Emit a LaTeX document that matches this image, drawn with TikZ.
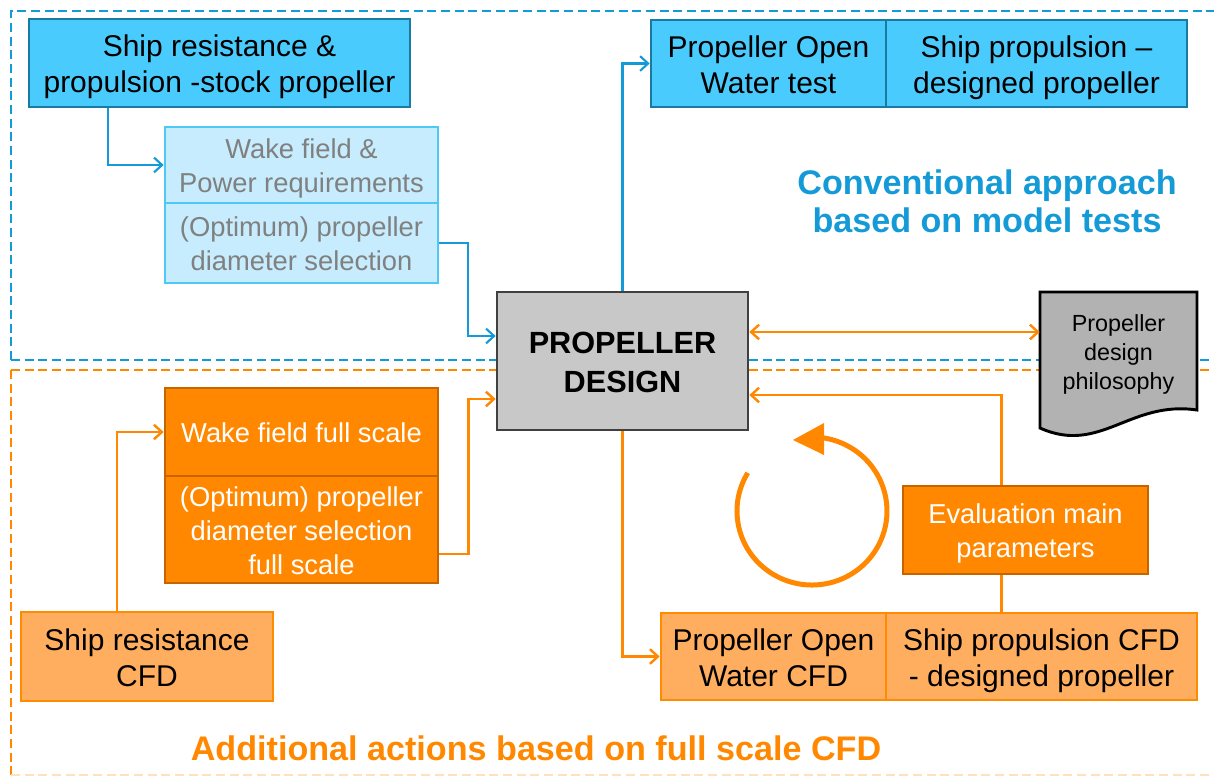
\documentclass[tikz,border=0pt]{standalone}
\usepackage{fontspec}
\setmainfont{Liberation Sans}
\usetikzlibrary{arrows.meta,calc}
\definecolor{bfill}{RGB}{74,203,253}
\definecolor{bdraw}{RGB}{26,122,162}
\definecolor{lbfill}{RGB}{198,236,253}
\definecolor{lbdraw}{RGB}{80,200,245}
\definecolor{bline}{RGB}{20,155,215}
\definecolor{oline}{RGB}{255,136,0}
\definecolor{ofill}{RGB}{255,136,0}
\definecolor{odraw}{RGB}{198,100,0}
\definecolor{lofill}{RGB}{255,174,96}
\definecolor{lodraw}{RGB}{255,140,0}
\definecolor{gfill}{RGB}{200,200,200}
\definecolor{gdraw}{RGB}{64,64,64}
\definecolor{docfill}{RGB}{178,178,178}
\definecolor{txtgray}{RGB}{128,128,128}
\newcommand\mystrut{\rule[-0.21em]{0pt}{1.2em}}
\begin{document}
\begin{tikzpicture}[x=0.75pt,y=-0.75pt,
  box/.style 2 args={rectangle, minimum width={#1*0.75pt}, minimum height={#2*0.75pt},
    inner sep=0pt, align=center, line width=2pt},
  bigtxt/.style={font=\fontsize{22.5}{27}\selectfont},
  midtxt/.style={font=\fontsize{20.5}{24.5}\selectfont},
  titletxt/.style={font=\fontsize{25.6}{28.5}\selectfont\bfseries},
  bluebox/.style={fill=bfill, draw=bdraw, bigtxt},
  lightbox/.style={fill=lbfill, draw=lbdraw, midtxt, text=txtgray},
  darkobox/.style={fill=ofill, draw=odraw, midtxt, text=white},
  lightobox/.style={fill=lofill, draw=lodraw, bigtxt},
  barrow/.style={draw=bline, line width=1.6pt, -{Straight Barb[length=6pt,width=11pt,line width=1.6pt]}},
  oarrow/.style={draw=oline, line width=1.8pt, -{Straight Barb[length=6pt,width=11pt,line width=1.8pt]}},
  oarrowboth/.style={draw=oline, line width=1.8pt, {Straight Barb[length=6pt,width=11pt,line width=1.8pt]}-{Straight Barb[length=6pt,width=11pt,line width=1.8pt]}},
  oplain/.style={draw=oline, line width=1.8pt},
  bdash/.style={draw=bline, line width=2.2pt, dash pattern=on 6.75pt off 3.5pt},
  odash/.style={draw=oline, line width=2.2pt, dash pattern=on 6.75pt off 3.5pt},
]
\useasboundingbox (0,0) rectangle (1214,776);
\clip (0,0) rectangle (1214,776);

% dashed region borders
\draw[bdash] (11,360) -- (11,11) -- (1240,11);
\draw[bdash] (11,360) -- (1240,360);
\draw[odash] (11,370) -- (1240,370);
\draw[odash] (11,370) -- (11,775);
\draw[odash, draw=oline!25] (11,775) -- (1240,775);

% upper (conventional) part
\node[bluebox, box={381}{88}] (tl) at (219.5,63) {\mystrut Ship resistance \&\\\mystrut propulsion -stock propeller};
\node[lightbox, box={273}{76}] (lw1) at (301.5,165) {\mystrut Wake field \&\\\mystrut Power requirements};
\node[lightbox, box={273}{80}] (lw2) at (301.5,243) {\mystrut (Optimum) propeller\\\mystrut diameter selection};
\node[bluebox, box={235}{87}] (pow) at (768.5,63.5) {\mystrut Propeller Open\\\mystrut Water test};
\node[bluebox, box={301}{87}] (spd) at (1036.5,63.5) {\mystrut Ship propulsion --\\\mystrut designed propeller};
\node[align=center, text=bline, titletxt] (ttop) at (987,201)
  {Conventional approach\\based on model tests};

% central node
\node[box={251}{138}, fill=gfill, draw=gdraw, font=\fontsize{23}{27}\selectfont\bfseries] (pd) at (622.5,361) {\mystrut PROPELLER\\\mystrut DESIGN};

% document shape
\draw[fill=docfill, draw=black, line width=2.2pt]
  (1040,292) -- (1197,292) -- (1197,410)
  .. controls (1130,400) and (1100,455) .. (1040,428) -- cycle;
\node[align=center, inner sep=0pt, minimum width={157*0.75pt}, minimum height={118*0.75pt},
  font=\fontsize{17.5}{21.75}\selectfont] (doc) at (1118.5,351) {\mystrut Propeller\\\mystrut design\\\mystrut philosophy};

% lower (CFD) part
\node[darkobox, box={273}{88}] (wf1) at (301.5,432) {\mystrut Wake field full scale};
\node[darkobox, box={273}{107}] (wf2) at (301.5,529.5) {\mystrut (Optimum) propeller\\\mystrut diameter selection\\\mystrut full scale};
\node[lightobox, box={252}{89}] (src) at (147,656.5) {\mystrut Ship resistance\\\mystrut CFD};
\node[darkobox, box={245}{88}] (eval) at (1025.5,530) {\mystrut Evaluation main\\\mystrut parameters};
\node[lightobox, box={225}{87}] (powc) at (773.5,656.5) {\mystrut Propeller Open\\\mystrut Water CFD};
\node[lightobox, box={311}{87}] (spc) at (1041.5,656.5) {\mystrut Ship propulsion CFD\\\mystrut - designed propeller};
\node[text=oline, titletxt] (tbot) at (536,748)
  {Additional actions based on full scale CFD};

% connectors (blue)
\draw[barrow] ([xshift={-111.5*0.75pt}]tl.south) |- (lw1.west);
\draw[barrow] (lw2.east) -- ++(29,0) |- ([yshift={25*0.75pt}]pd.west);
\draw[barrow] (pd.north) |- (pow.west);

% connectors (orange)
\draw[oarrowboth] ([yshift={29*0.75pt}]pd.east) -- ([yshift={29*0.75pt}]pd.east -| doc.west);
\draw[oarrow] ([xshift={-24*0.75pt}]eval.north) |- ([yshift={-34*0.75pt}]pd.east);
\draw[oplain] ([xshift={-24*0.75pt}]eval.south) -- ([xshift={-24*0.75pt}]eval.south |- spc.north);
\draw[oarrow] (pd.south) |- (powc.west);
\draw[oarrow] ([xshift={-30*0.75pt}]src.north) |- (wf1.west);
\draw[oarrow] ([yshift={-24.5*0.75pt}]wf2.east) -- ++(29,0) |- ([yshift={-38*0.75pt}]pd.west);

% iteration loop symbol
\draw[draw=oline, line width=3.75pt] (812,511) ++(-149:75 and 74) arc[start angle=-149, end angle=-441, x radius=75, y radius=74];
\fill[oline] (793,440) -- (824,423) -- (824,455) -- cycle;
\end{tikzpicture}
\end{document}
